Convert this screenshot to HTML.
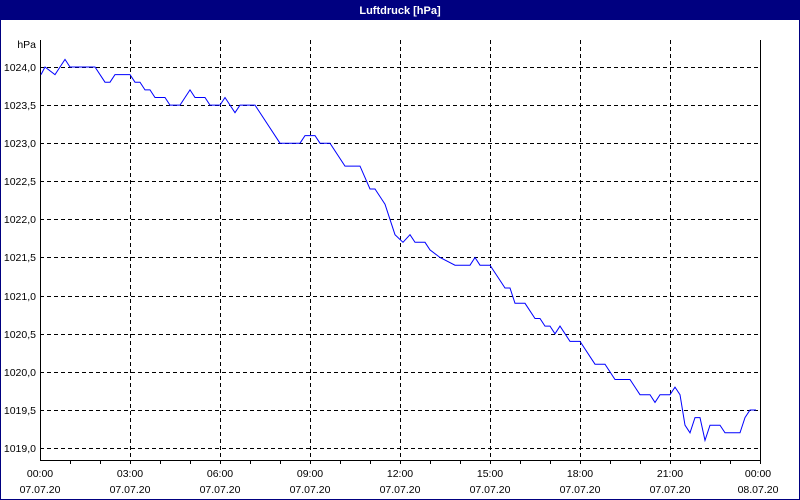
<!DOCTYPE html>
<html><head><meta charset="utf-8"><style>
html,body{margin:0;padding:0;background:#fff;}
svg{display:block;font-family:"Liberation Sans",sans-serif;}
</style></head><body>
<svg width="800" height="500" viewBox="0 0 800 500" xmlns="http://www.w3.org/2000/svg">
<rect x="0" y="0" width="800" height="500" fill="#fff"/>
<rect x="0" y="0" width="800" height="20" fill="#000080"/>
<rect x="0.5" y="0.5" width="799" height="499" fill="none" stroke="#000080" stroke-width="1"/>
<text x="400" y="14" fill="#fff" font-size="11" font-weight="bold" text-anchor="middle">Luftdruck [hPa]</text>
<g shape-rendering="crispEdges" stroke="#000" stroke-width="1" stroke-dasharray="4,3">
<line x1="130.5" y1="40" x2="130.5" y2="460"/>
<line x1="220.5" y1="40" x2="220.5" y2="460"/>
<line x1="310.5" y1="40" x2="310.5" y2="460"/>
<line x1="400.5" y1="40" x2="400.5" y2="460"/>
<line x1="490.5" y1="40" x2="490.5" y2="460"/>
<line x1="580.5" y1="40" x2="580.5" y2="460"/>
<line x1="670.5" y1="40" x2="670.5" y2="460"/>
<line x1="40" y1="67.5" x2="760" y2="67.5"/>
<line x1="40" y1="105.5" x2="760" y2="105.5"/>
<line x1="40" y1="143.5" x2="760" y2="143.5"/>
<line x1="40" y1="181.5" x2="760" y2="181.5"/>
<line x1="40" y1="219.5" x2="760" y2="219.5"/>
<line x1="40" y1="257.5" x2="760" y2="257.5"/>
<line x1="40" y1="296.5" x2="760" y2="296.5"/>
<line x1="40" y1="334.5" x2="760" y2="334.5"/>
<line x1="40" y1="372.5" x2="760" y2="372.5"/>
<line x1="40" y1="410.5" x2="760" y2="410.5"/>
<line x1="40" y1="448.5" x2="760" y2="448.5"/>
</g>
<g shape-rendering="crispEdges" stroke="#000" stroke-width="1">
<polyline points="40.5,40 40.5,460.5 760.5,460.5 760.5,40" fill="none"/>
<path d="M70.5,460 v4 M100.5,460 v4 M130.5,460 v4 M160.5,460 v4 M190.5,460 v4 M220.5,460 v4 M250.5,460 v4 M280.5,460 v4 M310.5,460 v4 M340.5,460 v4 M370.5,460 v4 M400.5,460 v4 M430.5,460 v4 M460.5,460 v4 M490.5,460 v4 M520.5,460 v4 M550.5,460 v4 M580.5,460 v4 M610.5,460 v4 M640.5,460 v4 M670.5,460 v4 M700.5,460 v4 M730.5,460 v4 M760.5,460 v4"/>
</g>
<g font-size="10.5" fill="#000" text-anchor="end">
<text x="36" y="48">hPa</text>
<text x="36" y="71">1024,0</text>
<text x="36" y="109">1023,5</text>
<text x="36" y="147">1023,0</text>
<text x="36" y="185">1022,5</text>
<text x="36" y="223">1022,0</text>
<text x="36" y="261">1021,5</text>
<text x="36" y="300">1021,0</text>
<text x="36" y="338">1020,5</text>
<text x="36" y="376">1020,0</text>
<text x="36" y="414">1019,5</text>
<text x="36" y="452">1019,0</text>
</g>
<g font-size="10.5" fill="#000" text-anchor="middle">
<text x="40" y="477">00:00</text><text x="40" y="493">07.07.20</text>
<text x="130" y="477">03:00</text><text x="130" y="493">07.07.20</text>
<text x="220" y="477">06:00</text><text x="220" y="493">07.07.20</text>
<text x="310" y="477">09:00</text><text x="310" y="493">07.07.20</text>
<text x="400" y="477">12:00</text><text x="400" y="493">07.07.20</text>
<text x="490" y="477">15:00</text><text x="490" y="493">07.07.20</text>
<text x="580" y="477">18:00</text><text x="580" y="493">07.07.20</text>
<text x="670" y="477">21:00</text><text x="670" y="493">07.07.20</text>
<text x="758" y="477">00:00</text><text x="758" y="493">08.07.20</text>
</g>
<polyline fill="none" stroke="#0000ff" stroke-width="1" points="
41,74.6 45,67 55,74.6 65,59.4 70,67 95,67 105,82.2 110,82.2 115,74.6 130,74.6 135,82.2 140,82.2 145,89.9 150,89.9 155,97.5 165,97.5 170,105.1 180,105.1 190,89.9 195,97.5 205,97.5 210,105.1 220,105.1 225,97.5 230,105.1 235,112.7 240,105.1 255,105.1 280,143.2 300,143.2 305,135.6 315,135.6 320,143.2 330,143.2 345,166.1 360,166.1 370,189 375,189 385,204.2 395,234.7 403,242.3 410,234.7 415,242.3 425,242.3 430,249.9 440,257.5 455,265.2 470,265.2 475,257.5 480,265.2 490,265.2 500,280.4 505,288 510,288 515,303.3 525,303.3 535,318.5 540,318.5 545,326.1 550,326.1 555,333.8 560,326.1 570,341.4 580,341.4 595,364.2 605,364.2 615,379.5 630,379.5 640,394.7 650,394.7 655,402.4 660,394.7 670,394.7 675,387.1 680,394.7 685,425.2 690,432.8 695,417.6 700,417.6 705,440.4 710,425.2 720,425.2 725,432.8 740,432.8 745,417.6 750,410 756,410"/>
</svg>
</body></html>
